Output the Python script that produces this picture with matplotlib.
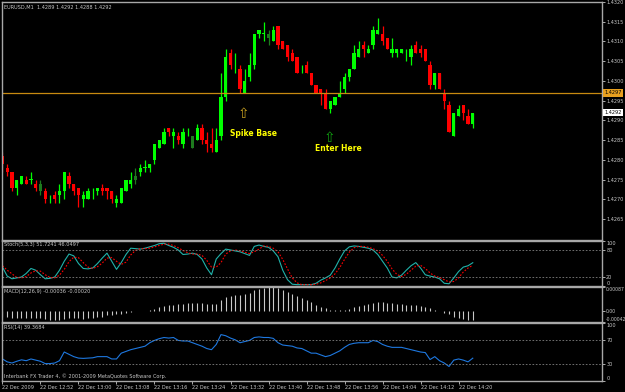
import numpy as np
import matplotlib
matplotlib.use("Agg")
import matplotlib.pyplot as plt
import matplotlib.transforms as mtransforms

# EURUSD M1, 22 Dec 2009, bars 12:44 .. 14:23
opens = [1.4281, 1.4278, 1.4277, 1.4273, 1.4274, 1.4275, 1.4275, 1.4274, 1.4272, 1.4272,
         1.4270, 1.4271, 1.4271, 1.4272, 1.4276, 1.4274, 1.4273, 1.4270, 1.4270, 1.4271,
         1.4272, 1.4273, 1.4273, 1.4272, 1.4269, 1.4269, 1.4272, 1.4274, 1.4275, 1.4277,
         1.4278, 1.4278, 1.4280, 1.4283, 1.4284, 1.4288, 1.4286, 1.4286, 1.4284, 1.4287,
         1.4283, 1.4285, 1.4288, 1.4285, 1.4284, 1.4282, 1.4286, 1.4296, 1.4307, 1.4303,
         1.4303, 1.4297, 1.4301, 1.4304, 1.4312, 1.4312, 1.4311, 1.4310, 1.4314, 1.4310,
         1.4309, 1.4307, 1.4306, 1.4303, 1.4304, 1.4302, 1.4299, 1.4298, 1.4297, 1.4293,
         1.4294, 1.4296, 1.4298, 1.4301, 1.4303, 1.4306, 1.4309, 1.4307, 1.4309, 1.4312,
         1.4312, 1.4311, 1.4307, 1.4307, 1.4307, 1.4307, 1.4306, 1.4309, 1.4308, 1.4308,
         1.4304, 1.4299, 1.4302, 1.4297, 1.4294, 1.4286, 1.4291, 1.4294, 1.4291, 1.4289]
highs = [1.4282, 1.4279, 1.4277, 1.4275, 1.4276, 1.4276, 1.4277, 1.4275, 1.4275, 1.4273,
         1.4271, 1.4272, 1.4274, 1.4277, 1.4277, 1.4274, 1.4273, 1.4272, 1.4273, 1.4273,
         1.4273, 1.4274, 1.4273, 1.4272, 1.4271, 1.4273, 1.4275, 1.4277, 1.4278, 1.4279,
         1.4280, 1.4279, 1.4284, 1.4285, 1.4288, 1.4288, 1.4288, 1.4287, 1.4288, 1.4288,
         1.4286, 1.4289, 1.4289, 1.4287, 1.4288, 1.4288, 1.4302, 1.4308, 1.4308, 1.4307,
         1.4304, 1.4303, 1.4307, 1.4312, 1.4313, 1.4315, 1.4313, 1.4314, 1.4314, 1.4310,
         1.4309, 1.4308, 1.4306, 1.4304, 1.4305, 1.4302, 1.4299, 1.4298, 1.4298, 1.4295,
         1.4296, 1.4300, 1.4302, 1.4303, 1.4309, 1.4310, 1.4310, 1.4309, 1.4314, 1.4316,
         1.4314, 1.4311, 1.4311, 1.4308, 1.4308, 1.4308, 1.4309, 1.4310, 1.4309, 1.4308,
         1.4305, 1.4302, 1.4302, 1.4298, 1.4295, 1.4292, 1.4294, 1.4294, 1.4293, 1.4292]
lows = [1.4277, 1.4276, 1.4272, 1.4271, 1.4274, 1.4274, 1.4274, 1.4272, 1.4271, 1.4269,
        1.4269, 1.4269, 1.4269, 1.4270, 1.4273, 1.4271, 1.4268, 1.4268, 1.4270, 1.4270,
        1.4271, 1.4271, 1.4270, 1.4269, 1.4268, 1.4269, 1.4272, 1.4273, 1.4274, 1.4276,
        1.4277, 1.4277, 1.4279, 1.4283, 1.4284, 1.4286, 1.4283, 1.4284, 1.4283, 1.4286,
        1.4283, 1.4285, 1.4284, 1.4282, 1.4282, 1.4282, 1.4285, 1.4295, 1.4303, 1.4302,
        1.4297, 1.4297, 1.4300, 1.4303, 1.4311, 1.4310, 1.4309, 1.4310, 1.4308, 1.4308,
        1.4305, 1.4305, 1.4302, 1.4302, 1.4302, 1.4299, 1.4297, 1.4294, 1.4293, 1.4292,
        1.4294, 1.4296, 1.4297, 1.4300, 1.4303, 1.4306, 1.4306, 1.4307, 1.4308, 1.4312,
        1.4309, 1.4308, 1.4306, 1.4306, 1.4307, 1.4305, 1.4304, 1.4307, 1.4306, 1.4305,
        1.4298, 1.4298, 1.4298, 1.4293, 1.4287, 1.4286, 1.4291, 1.4290, 1.4289, 1.4288]
closes = [1.4279, 1.4277, 1.4273, 1.4275, 1.4276, 1.4274, 1.4275, 1.4273, 1.4274, 1.4270,
          1.4270, 1.4270, 1.4272, 1.4277, 1.4274, 1.4272, 1.4271, 1.4271, 1.4272, 1.4271,
          1.4273, 1.4272, 1.4272, 1.4270, 1.4270, 1.4273, 1.4275, 1.4275, 1.4276, 1.4278,
          1.4278, 1.4279, 1.4284, 1.4285, 1.4287, 1.4287, 1.4287, 1.4285, 1.4287, 1.4287,
          1.4286, 1.4288, 1.4285, 1.4284, 1.4283, 1.4285, 1.4296, 1.4306, 1.4304, 1.4303,
          1.4298, 1.4300, 1.4304, 1.4312, 1.4313, 1.4312, 1.4312, 1.4313, 1.4309, 1.4308,
          1.4306, 1.4305, 1.4302, 1.4303, 1.4302, 1.4299, 1.4297, 1.4297, 1.4293, 1.4295,
          1.4296, 1.4297, 1.4301, 1.4303, 1.4307, 1.4308, 1.4308, 1.4308, 1.4313, 1.4313,
          1.4310, 1.4308, 1.4308, 1.4308, 1.4308, 1.4307, 1.4308, 1.4307, 1.4307, 1.4305,
          1.4299, 1.4302, 1.4298, 1.4295, 1.4287, 1.4292, 1.4293, 1.4292, 1.4289, 1.4292]
dim_bars = [8, 28, 40, 56]

stoch_main = [42, 22, 16, 18, 20, 28, 39, 35, 25, 16, 17, 20, 35, 55, 71, 67, 50, 39, 38, 40,
              50, 62, 73, 55, 37, 52, 70, 84, 83, 82, 84, 87, 90, 94, 95, 90, 86, 80, 70, 71,
              73, 70, 60, 40, 25, 60, 72, 82, 80, 78, 76, 72, 68, 88, 91, 88, 86, 78, 65, 35,
              14, 4, 3, 3, 3, 3, 6, 13, 18, 24, 40, 60, 78, 87, 89, 88, 86, 84, 80, 70,
              55, 40, 20, 18, 24, 35, 45, 52, 40, 25, 22, 20, 16, 6, 5, 18, 32, 42, 45, 51.72]
stoch_signal = [45, 35, 27, 19, 18, 21, 29, 34, 33, 25, 19, 18, 24, 37, 54, 64, 63, 52, 42, 39,
                43, 51, 62, 63, 55, 48, 53, 69, 79, 83, 83, 84, 87, 90, 93, 93, 90, 85, 79, 74,
                71, 71, 68, 57, 42, 42, 52, 71, 78, 80, 78, 75, 72, 76, 82, 89, 88, 84, 76, 59,
                38, 18, 7, 3, 3, 3, 4, 7, 12, 18, 27, 41, 59, 75, 85, 88, 88, 86, 83, 78,
                68, 55, 38, 26, 21, 26, 35, 44, 46, 39, 29, 22, 19, 14, 9, 10, 18, 31, 40, 46.05]
macd_hist = [-24, -25, -27, -28, -28, -27, -26, -27, -28, -31, -33, -35, -34, -30, -27, -27, -29, -30, -29, -27,
             -25, -22, -16, -15, -14, -11, -8, -5, -3, -1, 0, 3, 7, 12, 17, 20, 22, 24, 26, 27,
             28, 29, 28, 26, 24, 25, 38, 50, 55, 57, 59, 61, 66, 75, 81, 85, 87, 86, 82, 75,
             68, 61, 54, 46, 39, 33, 22, 15, 9, 4, 1, 2, 4, 7, 13, 17, 22, 26, 29, 31,
             30, 29, 27, 26, 24, 22, 21, 20, 17, 14, 9, 4, 0, -7, -13, -22, -26, -30, -33, -36]
rsi_vals = [38, 33, 31, 34, 36.5, 35, 38, 36, 34, 30, 30, 31, 35, 50, 46, 42, 39.5, 39, 39.5, 40,
            42, 42, 42, 38, 38, 48, 51, 54, 56, 58, 60, 66, 70, 73, 75, 74, 75, 70, 69, 69,
            66, 63, 60, 56, 54, 63, 80, 78, 74, 71, 66, 68, 70, 75, 76, 75, 75, 73.5, 66, 62,
            61, 60, 57, 56, 52, 48, 48, 45, 42, 44, 48, 52, 58, 63, 65, 66, 66, 66, 70, 68,
            63, 60, 58, 58, 58, 56, 54, 52, 50, 49, 37, 42, 35, 31, 25, 36, 38, 36, 33, 39.37]

time_labels = ["22 Dec 2009", "22 Dec 12:52", "22 Dec 13:00", "22 Dec 13:08", "22 Dec 13:16",
               "22 Dec 13:24", "22 Dec 13:32", "22 Dec 13:40", "22 Dec 13:48", "22 Dec 13:56",
               "22 Dec 14:04", "22 Dec 14:12", "22 Dec 14:20"]
price_ticks = [1.4320, 1.4315, 1.4310, 1.4305, 1.4300, 1.4295, 1.4290, 1.4285, 1.4280, 1.4275, 1.4270, 1.4265]

W, H = 625, 392
BG = "#000000"
DOTS = "#808080"
EDGE = "#a8a8a8"
TXT = "#c8c8c8"
FS = 3.6

plt.rcParams["font.family"] = ["DejaVu Sans"]


def rect(x0, y0, x1, y1):
    return [x0 / W, 1 - y1 / H, (x1 - x0) / W, (y1 - y0) / H]


def style(ax):
    ax.set_facecolor(BG)
    for s in ax.spines.values():
        s.set_color(EDGE)
        s.set_linewidth(1.0)
    ax.yaxis.tick_right()
    ax.tick_params(axis="y", colors=TXT, labelsize=FS, length=2, pad=1, width=0.6)
    ax.tick_params(axis="x", length=0, labelbottom=False)
    ax.set_xlim(-0.1, 126.2)


def edge_labels(ax):
    # top and bottom scale labels sit inside the panel, like the terminal does
    labs = ax.get_yticklabels()
    labs[0].set_va("top")
    labs[-1].set_va("bottom")


fig = plt.figure(figsize=(W / 100, H / 100), dpi=100, facecolor=BG)
ax = fig.add_axes(rect(2, 2, 602, 240))
ax_st = fig.add_axes(rect(2, 241, 602, 286))
ax_md = fig.add_axes(rect(2, 287, 602, 322))
ax_rs = fig.add_axes(rect(2, 323, 602, 381))
for a in (ax, ax_st, ax_md, ax_rs):
    style(a)

# candles
o, h, l, c = (np.array(v) for v in (opens, highs, lows, closes))
x = np.arange(len(o))
cols = np.where(c >= o, "#00ff00", "#ff0000").astype(object)
for i in dim_bars:
    cols[i] = "#1e7a1e"
ax.vlines(x, l, h, colors=list(cols), lw=0.9)
body = np.abs(c - o)
body[body == 0] = 0.000015
ax.bar(x, body, bottom=np.minimum(o, c), width=0.68, color=list(cols), linewidth=0)
ax.set_ylim(1.42597, 1.43200)
ax.set_yticks(price_ticks)
ax.set_yticklabels([f"{p:.4f}" for p in price_ticks])
ax.axhline(1.4297, color="#c88a10", lw=0.9)

tr = mtransforms.blended_transform_factory(ax.transAxes, ax.transData)
ax.text(1.004, 1.4297, "1.4297", transform=tr, fontsize=FS, color="black", va="center", ha="left",
        bbox=dict(fc="#e8a020", ec="none", pad=0.9))
ax.text(1.004, 1.4292, "1.4292", transform=tr, fontsize=FS, color="black", va="center", ha="left",
        bbox=dict(fc="white", ec="none", pad=0.9))
ax.text(0.004, 0.99, "EURUSD,M1  1.4289 1.4292 1.4288 1.4292", transform=ax.transAxes,
        fontsize=FS, color=TXT, va="top", ha="left")

ax.text(50.7, 1.42915, "\u21e7", fontsize=10, color="#c8a020", ha="center", va="center")
ax.text(52.8, 1.42868, "Spike Base", fontsize=5.5, fontweight="bold", color="#ffff00", ha="center", va="center")
ax.text(68.8, 1.42856, "\u21e7", fontsize=10, color="#10a010", ha="center", va="center")
ax.text(70.7, 1.42828, "Enter Here", fontsize=5.5, fontweight="bold", color="#ffff00", ha="center", va="center")

# stochastic
ax_st.plot(x, stoch_main, color="#20b2aa", lw=0.8)
ax_st.plot(x, stoch_signal, color="#ff0000", lw=0.8, ls=(0, (1.5, 1.5)))
ax_st.set_ylim(0, 100)
for lev in (80, 20):
    ax_st.axhline(lev, color=DOTS, lw=0.6, ls=(0, (2, 2)))
ax_st.set_yticks([100, 80, 20, 0])
edge_labels(ax_st)
ax_st.text(0.004, 0.97, "Stoch(5,3,3) 51.7241 46.0497", transform=ax_st.transAxes,
           fontsize=FS, color=TXT, va="top", ha="left")

# macd
ax_md.vlines(x, 0, np.array(macd_hist) * 1e-5, colors="#c8c8c8", lw=0.8)
ax_md.set_ylim(-0.00042, 0.00087)
ax_md.set_yticks([0.00087, 0.0, -0.00042])
ax_md.set_yticklabels(["0.00087", "0.00", "-0.00042"])
ax_md.tick_params(axis="y", labelsize=3.3, pad=0.5)
edge_labels(ax_md)
ax_md.text(0.004, 0.95, "MACD(12,26,9) -0.00036 -0.00020", transform=ax_md.transAxes,
           fontsize=FS, color=TXT, va="top", ha="left")

# rsi
ax_rs.plot(x, rsi_vals, color="#1e78e0", lw=0.8)
ax_rs.set_ylim(0, 100)
for lev in (70, 30):
    ax_rs.axhline(lev, color=DOTS, lw=0.6, ls=(0, (2, 2)))
ax_rs.set_yticks([100, 70, 30, 0])
edge_labels(ax_rs)
ax_rs.text(0.004, 0.97, "RSI(14) 39.3684", transform=ax_rs.transAxes,
           fontsize=FS, color=TXT, va="top", ha="left")
ax_rs.text(0.004, 0.04, "Interbank FX Trader 4, \u00a9 2001-2009 MetaQuotes Software Corp.",
           transform=ax_rs.transAxes, fontsize=FS, color=TXT, va="bottom", ha="left")

ax_rs.set_xticks(np.arange(0, 100, 8))
ax_rs.set_xticklabels(time_labels)
ax_rs.tick_params(axis="x", length=2, colors=TXT, labelsize=FS, labelbottom=True, pad=1, width=0.6)
for t in ax_rs.get_xticklabels():
    t.set_ha("left")

fig.savefig("out.png", dpi=100, facecolor=BG)
